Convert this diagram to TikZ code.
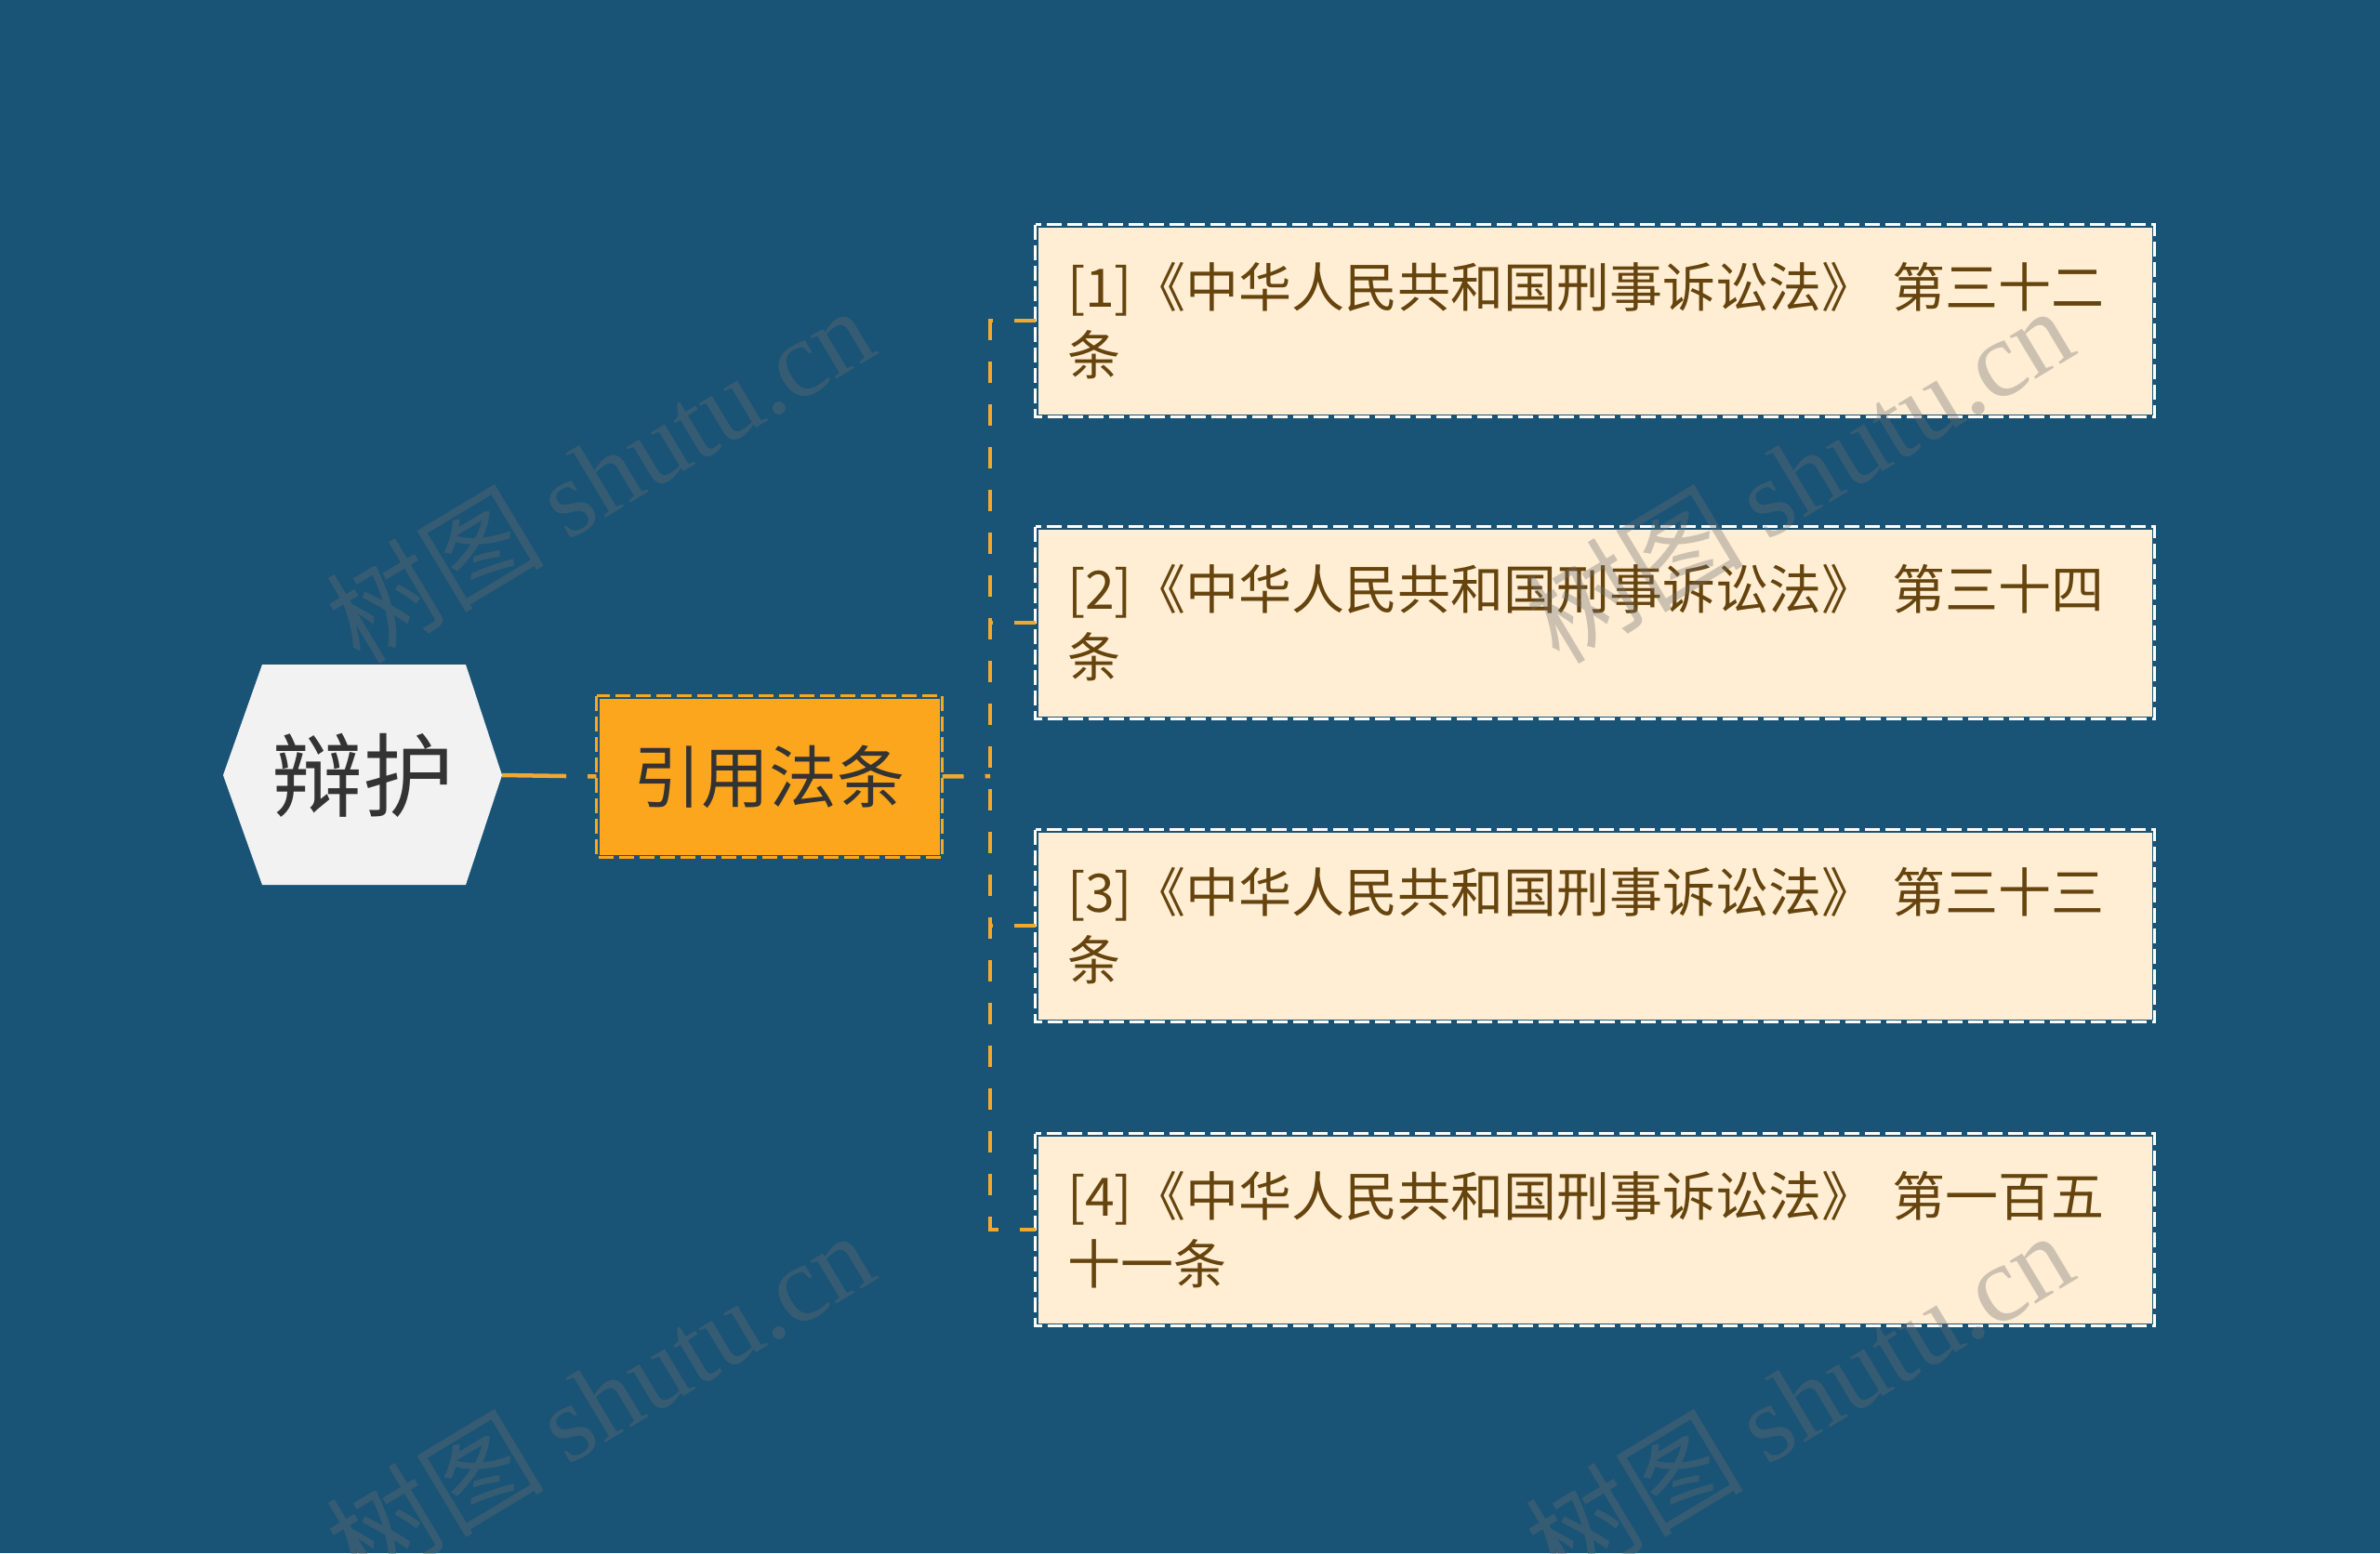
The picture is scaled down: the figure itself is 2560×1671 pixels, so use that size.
\documentclass[tikz,border=0pt]{standalone}
\usepackage{fontspec}
\setmainfont{Noto Sans CJK SC}
\newfontfamily\wmlatin{Liberation Serif}
\definecolor{bgc}{RGB}{25,83,118}
\definecolor{hexc}{RGB}{242,242,242}
\definecolor{darktext}{RGB}{51,51,51}
\definecolor{orangec}{RGB}{251,166,28}
\definecolor{connc}{RGB}{240,168,48}
\definecolor{creamc}{RGB}{255,238,212}
\definecolor{browntext}{RGB}{102,68,14}
\definecolor{wmc}{RGB}{110,110,110}
\tikzset{
  conn/.style={draw=connc, line width=4.5pt, dash pattern=on 23pt off 23pt},
  rootconn/.style={draw=connc, line width=4.5pt, dash pattern=on 69pt off 23pt on 40pt off 23pt},
  roottext/.style={inner sep=0pt, minimum width=300pt, minimum height=237pt, text=darktext,
    font=\fontsize{98}{110}\selectfont},
  midbox/.style={fill=orangec, draw=bgc, line width=3pt, inner sep=0pt, minimum width=369pt,
    minimum height=171pt, text=darktext, font=\fontsize{73}{80}\selectfont},
  leafbox/.style={fill=creamc, draw=bgc, line width=3pt, inner xsep=33pt, inner ysep=0pt,
    minimum width=1201pt, minimum height=204pt, text width=1135pt, align=left,
    text=browntext, font=\fontsize{57}{73}\selectfont},
  whitedash/.style={draw=white, line width=3pt, dash pattern=on 16pt off 6pt},
  orangedash/.style={draw=orangec, line width=3pt, dash pattern=on 16pt off 6pt},
  wm/.style={text=wmc, opacity=0.35, font=\fontsize{117}{125}\selectfont, rotate=31}
}
\begin{document}
\begin{tikzpicture}[x=1pt,y=-1pt]
\fill[bgc] (0,0) rectangle (2560,1671);
\useasboundingbox (0,0) rectangle (2560,1671);
% root hexagon
\fill[hexc] (240,834) -- (282,715) -- (501,715) -- (540,834) -- (501,952) -- (282,952) -- cycle;
\node[roottext] (root) at (390,834) {辩护};
% middle node
\node[midbox] (mid) at (827.5,835.5) {引用法条};
\draw[orangedash] (mid.north west) rectangle (mid.south east);
% leaves
\node[leafbox] (b1) at (1715.5,345) {[1]《中华人民共和国刑事诉讼法》 第三十二\\条};
\node[leafbox] (b2) at (1715.5,670) {[2]《中华人民共和国刑事诉讼法》 第三十四\\条};
\node[leafbox] (b3) at (1715.5,996) {[3]《中华人民共和国刑事诉讼法》 第三十三\\条};
\node[leafbox] (b4) at (1715.5,1323) {[4]《中华人民共和国刑事诉讼法》 第一百五\\十一条};
\foreach \b in {b1,b2,b3,b4}{
  \draw[whitedash] (\b.north west) rectangle (\b.south east);
}
% connectors
\coordinate (j) at (1065,835);
\draw[rootconn] (root.east) -- (mid.west);
\draw[conn] (mid.east) -- (j);
\draw[conn] (b1.west) -- (b1.west -| j) -- (b4.west -| j) -- (b4.west);
\draw[conn] (b2.west) -- (b2.west -| j);
\draw[conn] (b3.west) -- (b3.west -| j);
% watermarks
\node[wm] at (645,510) {树图 {\wmlatin shutu.cn}};
\node[wm] at (1935,510) {树图 {\wmlatin shutu.cn}};
\node[wm] at (645,1505) {树图 {\wmlatin shutu.cn}};
\node[wm] at (1935,1505) {树图 {\wmlatin shutu.cn}};
\end{tikzpicture}
\end{document}
